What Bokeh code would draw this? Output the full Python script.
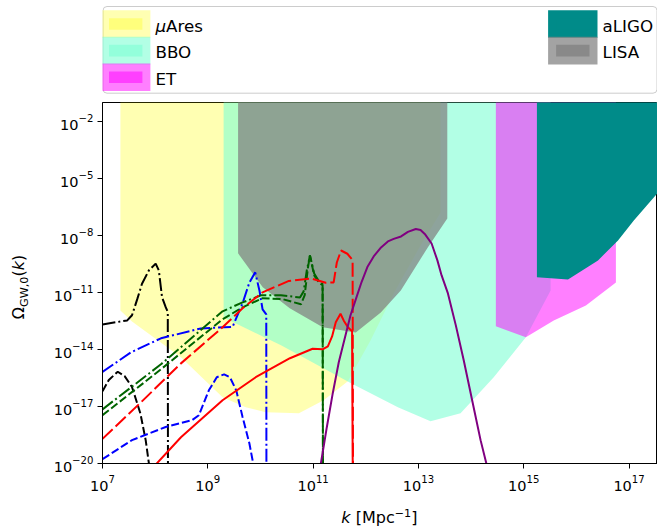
from bokeh.plotting import figure
from bokeh.models import Range1d, FixedTicker, Div
from bokeh.layouts import column, row
from bokeh.core.properties import value
from bokeh.embed import file_html
from bokeh.resources import INLINE

# ---------------------------------------------------------------------------
# Detector sensitivity regions: lower edge of each region as (log10 k, log10 Omega).
# Each region is filled from its lower edge up to the top of the plot.
# ---------------------------------------------------------------------------
muares_logk = [7.34, 7.56, 8.49, 9.28, 9.72, 10.10, 10.73, 11.20, 11.66, 12.09, 12.53, 13.04, 13.42]
muares_logom = [-11.95, -12.52, -14.41, -16.51, -17.04, -17.30, -17.36, -16.67, -15.67, -13.52, -11.05, -8.52, -6.79]

bbo_logk = [9.30, 10.39, 11.72, 12.61, 13.23, 13.80, 14.43, 15.04, 15.51]
bbo_logom = [-12.31, -13.78, -15.78, -17.04, -17.78, -17.36, -15.46, -13.36, -10.89]

et_logk = [14.47, 15.04, 15.57, 16.18, 16.75]
et_logom = [-12.78, -13.36, -12.47, -11.68, -10.47]

aligo_logk = [15.25, 15.84, 16.41, 16.79, 17.09, 17.55, 18.0]
aligo_logom = [-10.20, -10.31, -9.31, -8.26, -7.21, -5.74, -4.30]

lisa_logk = [9.575, 10.044, 10.556, 11.183, 11.81, 12.285, 12.665, 13.177, 13.548]
lisa_logom = [-8.94, -10.73, -11.83, -12.83, -13.10, -12.05, -10.89, -8.63, -7.10]

# ---------------------------------------------------------------------------
# Induced GW spectra, (log10 k, log10 Omega_GW,0)
# ---------------------------------------------------------------------------
black_dashdot_logk = [7.0, 7.47, 7.56, 7.66, 7.75, 7.88, 8.01, 8.07, 8.13, 8.20, 8.24, 8.245]
black_dashdot_logom = [-12.68, -12.47, -12.20, -11.35, -10.54, -9.84, -9.48, -9.84, -11.24, -11.77, -12.03, -25.0]

black_dashed_logk = [7.0, 7.12, 7.29, 7.42, 7.56, 7.72, 7.82, 7.88, 7.92]
black_dashed_logom = [-16.2, -15.6, -15.17, -15.4, -15.97, -17.37, -18.77, -19.97, -21.0]

blue_dashdot_logk = [7.0, 7.54, 8.11, 8.87, 9.47, 9.66, 9.79, 9.90, 9.98, 10.04, 10.11, 10.115]
blue_dashdot_logom = [-15.18, -14.15, -13.41, -12.89, -12.81, -11.57, -10.47, -9.94, -10.89, -11.89, -12.15, -25.0]

blue_dashed_logk = [7.0, 7.56, 8.20, 8.70, 8.83, 9.02, 9.17, 9.31, 9.42, 9.54, 9.66, 9.79, 9.85, 9.88]
blue_dashed_logom = [-19.77, -18.77, -18.08, -17.72, -17.46, -16.15, -15.46, -15.31, -15.46, -16.15, -17.55, -18.95, -19.83, -20.6]

green_dashdot_logk = [7.0, 8.11, 9.28, 9.66, 10.01, 10.39, 10.75, 10.82, 10.88, 10.94, 11.02, 11.11, 11.18, 11.19]
green_dashdot_logom = [-17.15, -14.78, -11.99, -11.52, -11.15, -11.15, -11.26, -10.94, -9.83, -9.05, -10.0, -10.41, -10.55, -25.0]

green_dashed_logk = [7.0, 8.11, 9.28, 9.66, 10.04, 10.42, 10.77, 10.84, 10.90, 10.94, 11.02, 11.11, 11.18, 11.19]
green_dashed_logom = [-17.46, -15.04, -12.41, -11.78, -11.30, -11.35, -11.62, -11.14, -9.72, -9.05, -10.1, -10.47, -10.62, -25.0]

red_dashed_logk = [7.0, 7.73, 8.49, 9.28, 9.66, 10.04, 10.54, 10.96, 11.24, 11.39, 11.45, 11.53, 11.65, 11.74, 11.75, 11.76]
red_dashed_logom = [-18.70, -16.78, -14.73, -12.83, -11.83, -10.99, -10.39, -10.26, -10.49, -10.47, -9.42, -8.79, -8.96, -9.26, -9.42, -25.0]

red_solid_logk = [7.93, 8.49, 9.28, 9.91, 10.56, 10.99, 11.18, 11.28, 11.36, 11.43, 11.52, 11.58, 11.66, 11.74, 11.76]
red_solid_logom = [-20.3, -18.62, -16.67, -15.46, -14.46, -13.96, -13.99, -13.83, -13.31, -12.57, -12.12, -12.47, -12.83, -13.04, -25.0]

purple_logk = [11.12, 11.147, 11.26, 11.373, 11.487, 11.62, 11.71, 11.81, 11.92, 12.03, 12.15, 12.29, 12.42, 12.53, 12.67,
               12.80, 12.95, 13.04, 13.13, 13.25, 13.36, 13.44, 13.56, 13.71, 13.86, 14.06, 14.18, 14.29, 14.32]
purple_logom = [-20.4, -20.0, -18.09, -16.30, -14.67, -13.20, -12.20, -11.36, -10.45, -9.66, -9.10, -8.63, -8.31, -8.18, -8.05,
                -7.81, -7.66, -7.71, -7.95, -8.42, -9.31, -10.10, -11.05, -12.73, -14.57, -17.20, -18.77, -20.0, -20.45]

# axis ticks (log10)
x_tick_exps = [7, 9, 11, 13, 15, 17]
y_tick_exps = [-20, -17, -14, -11, -8, -5, -2]

# legend entries
legend_names = ["μAres", "BBO", "ET", "aLIGO", "LISA"]
legend_colors = ["yellow", "aquamarine", "magenta", "#008b89", "gray"]
legend_alphas = [0.3, 0.6, 0.5, 1.0, 0.72]

FONT = value("DejaVu Sans")
TOP = 1.0  # regions are closed above the visible range

YLAB_W = 40     # width of the y-label strip
LEG_H = 100     # height of the legend strip
XLAB_H = 30     # height of the x-label strip
PLOT_W = 657 - YLAB_W


def pw(vals):
    return [10.0 ** v for v in vals]


# ---------------------------------------------------------------------------
# main log-log panel
# ---------------------------------------------------------------------------
p = figure(width=PLOT_W, height=527 - LEG_H - XLAB_H, title=None,
           x_axis_type="log", y_axis_type="log",
           x_range=Range1d(1e7, 10 ** 17.54), y_range=Range1d(1e-20, 1e-1),
           output_backend="svg", toolbar_location=None,
           min_border_left=102 - YLAB_W, min_border_right=0, min_border_top=2,
           min_border_bottom=64 - XLAB_H)
p.background_fill_color = "white"
p.border_fill_color = "white"
p.grid.visible = False
p.outline_line_color = "black"
p.outline_line_width = 1

regions = [
    (muares_logk, muares_logom, "yellow", 0.3),
    (bbo_logk, bbo_logom, "aquamarine", 0.6),
    (et_logk, et_logom, "magenta", 0.5),
    (aligo_logk, aligo_logom, "#008b89", 1.0),
    (lisa_logk, lisa_logom, "gray", 0.72),
]
for lk, lo, col, a in regions:
    k = pw(lk)
    om = pw(lo)
    p.patch([k[0]] + k + [k[-1]], [TOP] + om + [TOP],
            fill_color=col, fill_alpha=a, line_color=None)

DASH = "8 3"
DASHDOT = "13 3 2 3"
curves = [
    (black_dashdot_logk, black_dashdot_logom, "black", DASHDOT),
    (black_dashed_logk, black_dashed_logom, "black", DASH),
    (blue_dashdot_logk, blue_dashdot_logom, "blue", DASHDOT),
    (blue_dashed_logk, blue_dashed_logom, "blue", DASH),
    (green_dashdot_logk, green_dashdot_logom, "darkgreen", DASHDOT),
    (green_dashed_logk, green_dashed_logom, "darkgreen", DASH),
    (red_dashed_logk, red_dashed_logom, "red", "14 4"),
    (red_solid_logk, red_solid_logom, "red", "solid"),
    (purple_logk, purple_logom, "purple", "solid"),
]
for lk, lo, col, dash in curves:
    p.line(pw(lk), pw(lo), line_color=col, line_width=2, line_dash=dash)

for ax, exps in ((p.xaxis, x_tick_exps), (p.yaxis, y_tick_exps)):
    ax.ticker = FixedTicker(ticks=pw(exps), minor_ticks=[])
    ax.major_tick_in = 0
    ax.major_tick_out = 5
    ax.minor_tick_line_color = None
    ax.axis_line_color = "black"
    ax.major_tick_line_color = "black"
    ax.major_label_text_font = "DejaVu Sans"
    ax.major_label_text_font_size = "14.5px"
    ax.major_label_text_color = "black"
p.xaxis.major_label_standoff = 6
p.yaxis.major_label_standoff = 4

# ---------------------------------------------------------------------------
# legend strip above the panel (page pixel coordinates, y pointing down)
# ---------------------------------------------------------------------------
lg = figure(width=PLOT_W, height=LEG_H, title=None,
            x_range=Range1d(102, 657), y_range=Range1d(LEG_H, 0),
            x_axis_location=None, y_axis_location=None,
            output_backend="svg", toolbar_location=None,
            min_border_left=102 - YLAB_W, min_border_right=0, min_border_top=0, min_border_bottom=0)
lg.grid.visible = False
lg.outline_line_color = None
lg.background_fill_color = "white"
lg.border_fill_color = "white"

box = lg.quad(left=102.5, right=656.5, top=6.0, bottom=92.7,
              fill_color="white", line_color="#cccccc", line_width=1)
try:
    box.glyph.border_radius = 4
except Exception:
    pass

row_centers = [23.5, 50.1, 76.7]
col_left = [100.5, 547.6]

for i, (name, col, a) in enumerate(zip(legend_names, legend_colors, legend_alphas)):
    c = 0 if i < 3 else 1
    r = i if i < 3 else i - 3
    cx = col_left[c]
    cy = row_centers[r]
    lg.quad(left=cx, right=cx + 49.4, top=cy - 13.8, bottom=cy + 13.8,
            fill_color=col, fill_alpha=a, line_color=None)
    lg.quad(left=cx + 8.0, right=cx + 41.4, top=cy - 5.8, bottom=cy + 5.8,
            fill_color=col, fill_alpha=a, line_color=None)
    tx = cx + 54.5
    ty = cy + 1.5
    if name.startswith("μ"):
        lg.text(x=[tx], y=[ty], text=["μ"], text_font=FONT, text_font_size="16.7px",
                text_font_style="italic", text_baseline="middle", text_align="left",
                text_color="black")
        lg.text(x=[tx + 10.6], y=[ty], text=[name[1:]], text_font=FONT, text_font_size="16.7px",
                text_baseline="middle", text_align="left", text_color="black")
    else:
        lg.text(x=[tx], y=[ty], text=[name], text_font=FONT, text_font_size="16.7px",
                text_baseline="middle", text_align="left", text_color="black")

# ---------------------------------------------------------------------------
# axis titles (mixed upright / italic / sub- and superscript text)
# ---------------------------------------------------------------------------
TXT = "font-family:DejaVu Sans;font-size:16px;line-height:1;color:black;white-space:nowrap;"

ylab_html = (
    f'<div style="position:relative;width:{YLAB_W}px;height:527px;">'
    '<div style="position:absolute;left:18.5px;top:286.5px;'
    f'transform:translate(-50%,-50%) rotate(-90deg);{TXT}">'
    'Ω<span style="font-size:11.2px;position:relative;top:3.5px;">GW,0</span>(<i>k</i>)'
    '</div></div>'
)
ylab = Div(text=ylab_html, width=YLAB_W, height=527, margin=0)

xlab_html = (
    f'<div style="position:relative;width:{PLOT_W}px;height:{XLAB_H}px;">'
    f'<div style="position:absolute;left:{379.4 - YLAB_W}px;top:21px;'
    f'transform:translate(-50%,-50%);{TXT}">'
    '<i>k</i> [Mpc<span style="font-size:11.2px;position:relative;top:-6px;">−1</span>]'
    '</div></div>'
)
xlab = Div(text=xlab_html, width=PLOT_W, height=XLAB_H, margin=0)

layout = row(ylab, column(lg, p, xlab))
open("out.html", "w").write(file_html(layout, INLINE))
